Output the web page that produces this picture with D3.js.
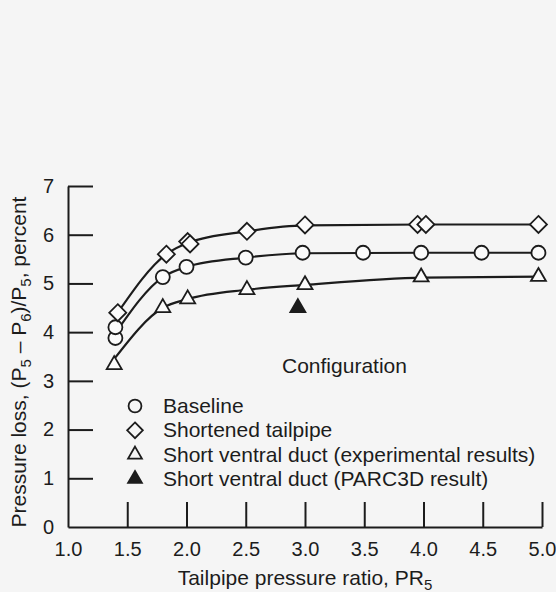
<!DOCTYPE html>
<html>
<head>
<meta charset="utf-8">
<script src="https://cdn.jsdelivr.net/npm/d3@7/dist/d3.min.js"></script>
<style>
  html, body { margin: 0; padding: 0; background: #f5f5f5; }
  svg { display: block; font-family: "Liberation Sans", Arial, sans-serif; }
</style>
</head>
<body>
<svg id="chart"></svg>
<script>
// tick labels
var xTicks = [1.0, 1.5, 2.0, 2.5, 3.0, 3.5, 4.0, 4.5, 5.0];
var yTicks = [0, 1, 2, 3, 4, 5, 6, 7];

// measured points (x = PR5, y = percent)
var baselinePts = [[1.4, 3.88], [1.4, 4.10], [1.8, 5.13], [2.0, 5.34], [2.5, 5.53],
                   [2.98, 5.63], [3.49, 5.63], [3.98, 5.63], [4.49, 5.63], [4.97, 5.63]];
var tailpipePts = [[1.42, 4.40], [1.83, 5.60], [2.01, 5.86], [2.03, 5.81], [2.51, 6.07],
                   [3.0, 6.20], [3.95, 6.21], [4.02, 6.21], [4.97, 6.21]];
var ventralPts = [[1.39, 3.33], [1.8, 4.50], [2.01, 4.68], [2.51, 4.87], [3.0, 4.97],
                  [3.98, 5.13], [4.97, 5.14]];
var parcPts = [[2.94, 4.50]];

// faired curves through the data
var baselineCurve = [[1.4, 3.98], [1.8, 5.13], [2.0, 5.34], [2.5, 5.53], [3.0, 5.62], [4.0, 5.63], [5.0, 5.63]];
var tailpipeCurve = [[1.42, 4.40], [1.83, 5.60], [2.02, 5.84], [2.51, 6.07], [3.0, 6.19], [4.0, 6.21], [5.0, 6.21]];
var ventralCurve = [[1.39, 3.45], [1.8, 4.50], [2.01, 4.68], [2.51, 4.87], [3.0, 4.97], [4.0, 5.12], [5.0, 5.14]];

var legendLabels = ["Baseline", "Shortened tailpipe",
  "Short ventral duct (experimental results)", "Short ventral duct (PARC3D result)"];
var legendShapes = ["circle", "diamond", "triangle", "filled"];

var ink = "#1c1c1c";
var svg = d3.select("#chart").attr("width", 556).attr("height", 592);

var x = d3.scaleLinear().domain([1, 5]).range([68, 542]);
var y = d3.scaleLinear().domain([0, 7]).range([527, 186]);

function shapePath(kind, s) {
  if (kind == "circle") {
    var p = d3.path(); p.arc(0, 0, 7 * s, 0, 2 * Math.PI); return p.toString();
  }
  if (kind == "diamond") {
    var r = 8.5 * s;
    return "M0," + (-r) + "L" + r + ",0L0," + r + "L" + (-r) + ",0Z";
  }
  var w = 7.5 * s, h = 13 * s;
  return "M0," + (-h * 2 / 3) + "L" + w + "," + (h / 3) + "L" + (-w) + "," + (h / 3) + "Z";
}

// axes
var gx = svg.append("g")
  .attr("transform", "translate(0,527)")
  .call(d3.axisBottom(x).tickValues(xTicks).tickFormat(d3.format(".1f"))
    .tickSizeInner(-25).tickSizeOuter(0).tickPadding(15));
var gy = svg.append("g")
  .attr("transform", "translate(68,0)")
  .call(d3.axisLeft(y).tickValues(yTicks).tickFormat(d3.format("d"))
    .tickSizeInner(-25).tickSizeOuter(0).tickPadding(14));

[gx, gy].forEach(function(g) {
  g.selectAll("path, line").attr("stroke", ink).attr("stroke-width", 2);
  g.selectAll("text").attr("fill", ink).attr("font-size", 20)
    .attr("font-family", "Liberation Sans, Arial, sans-serif");
});
gx.selectAll(".tick").filter(function(d) { return d == 1; }).select("line").remove();
gy.selectAll(".tick").filter(function(d) { return d == 0; }).select("line").remove();

// curves
var line = d3.line()
  .x(function(d) { return x(d[0]); })
  .y(function(d) { return y(d[1]); })
  .curve(d3.curveMonotoneX);

[baselineCurve, tailpipeCurve, ventralCurve].forEach(function(c) {
  svg.append("path")
    .datum(c)
    .attr("fill", "none")
    .attr("stroke", ink)
    .attr("stroke-width", 2.2)
    .attr("stroke-linejoin", "round")
    .attr("d", line);
});

// markers
function drawPts(pts, kind, fill) {
  svg.append("g").selectAll("path")
    .data(pts)
    .join("path")
    .attr("transform", function(d) { return "translate(" + x(d[0]) + "," + y(d[1]) + ")"; })
    .attr("d", shapePath(kind, 1))
    .attr("fill", fill)
    .attr("stroke", ink)
    .attr("stroke-width", 1.8);
}
drawPts(baselinePts, "circle", "#fbfbfb");
drawPts(tailpipePts, "diamond", "#fbfbfb");
drawPts(ventralPts, "triangle", "#fbfbfb");
drawPts(parcPts, "triangle", ink);

// legend
svg.append("text")
  .attr("x", 282).attr("y", 373)
  .attr("font-size", 21).attr("fill", ink)
  .text("Configuration");

var leg = svg.append("g").selectAll("g")
  .data(legendLabels)
  .join("g")
  .attr("transform", function(d, i) { return "translate(0," + (413 + i * 24.3) + ")"; });

leg.append("path")
  .attr("transform", "translate(135,-7)")
  .attr("d", function(d, i) { return shapePath(legendShapes[i] == "filled" ? "triangle" : legendShapes[i], 0.92); })
  .attr("fill", function(d, i) { return legendShapes[i] == "filled" ? ink : "none"; })
  .attr("stroke", ink)
  .attr("stroke-width", 1.8);

leg.append("text")
  .attr("x", 163)
  .attr("font-size", 21)
  .attr("fill", ink)
  .text(function(d) { return d; });

// axis titles
var xt = svg.append("text")
  .attr("x", x(3)).attr("y", 585)
  .attr("text-anchor", "middle")
  .attr("font-size", 21).attr("fill", ink);
xt.append("tspan").text("Tailpipe pressure ratio, PR");
xt.append("tspan").attr("dy", 5).attr("font-size", 15).text("5");

var yt = svg.append("text")
  .attr("transform", "translate(26,362) rotate(-90)")
  .attr("text-anchor", "middle")
  .attr("font-size", 21).attr("fill", ink);
yt.append("tspan").text("Pressure loss, (P");
yt.append("tspan").attr("dy", 5).attr("font-size", 15).text("5");
yt.append("tspan").attr("dy", -5).text(" \u2013 P");
yt.append("tspan").attr("dy", 5).attr("font-size", 15).text("6");
yt.append("tspan").attr("dy", -5).text(")/P");
yt.append("tspan").attr("dy", 5).attr("font-size", 15).text("5");
yt.append("tspan").attr("dy", -5).text(", percent");
</script>
</body>
</html>
